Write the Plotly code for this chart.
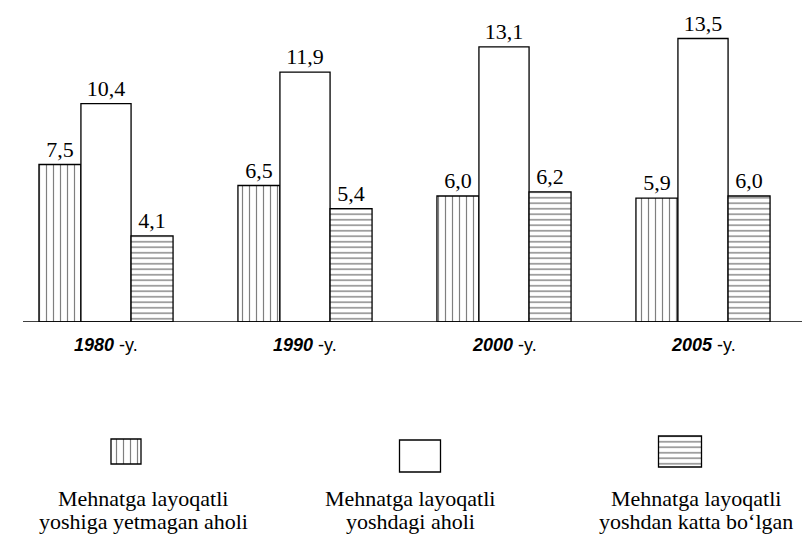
import plotly.graph_objects as go

# ---- data ----
years = ["1980", "1990", "2000", "2005"]
year_labels = ["1980", "1990", "2000", "2005"]
under_age = [7.5, 6.5, 6.0, 5.9]       # Mehnatga layoqatli yoshiga yetmagan aholi
working_age = [10.4, 11.9, 13.1, 13.5]  # Mehnatga layoqatli yoshdagi aholi
over_age = [4.1, 5.4, 6.2, 6.0]        # Mehnatga layoqatli yoshdan katta bo'lgan
series_names = [
    ["Mehnatga layoqatli", "yoshiga yetmagan aholi"],
    ["Mehnatga layoqatli", "yoshdagi aholi"],
    ["Mehnatga layoqatli", "yoshdan katta bo\u2018lgan"],
]

W, H = 810, 534
SERIF = "Liberation Serif, Times New Roman, serif"
SANS = "Liberation Sans, Arial, sans-serif"

def fmt(v):
    return f"{v:.1f}".replace(".", ",")

vert = dict(shape="|", size=7, solidity=0.17, fgcolor="black", bgcolor="white", fillmode="overlay")
horiz = dict(shape="-", size=5.5, solidity=0.25, fgcolor="black", bgcolor="white", fillmode="overlay")
plain = dict(shape="")

styles = [
    (under_age, vert, -0.337, 0.211),
    (working_age, plain, -0.126, 0.252),
    (over_age, horiz, 0.126, 0.211),
]

fig = go.Figure()
for vals, pat, off, wd in styles:
    fig.add_trace(go.Bar(
        x=years, y=vals, offset=off, width=wd,
        marker=dict(color="white", pattern=pat, line=dict(color="black", width=1.3)),
        text=[fmt(v) for v in vals], textposition="outside",
        textfont=dict(family=SERIF, size=22, color="black"),
        cliponaxis=False, showlegend=False, hoverinfo="skip",
    ))

# legend swatches drawn as bars on a pixel-like secondary axis
leg_x = [118, 412, 672]
leg_w = [30, 41, 43]
leg_top = [431, 432, 428]
leg_h = [25, 32, 31]
pats = [vert, plain, horiz]
for i in range(3):
    fig.add_trace(go.Bar(
        x=[leg_x[i]], y=[leg_h[i]], base=[leg_top[i]], width=[leg_w[i]],
        xaxis="x2", yaxis="y2",
        marker=dict(color="white", pattern=pats[i], line=dict(color="black", width=1.3)),
        showlegend=False, hoverinfo="skip",
    ))

px_per_cat = 199.0
c0 = 98.0
x_range = [-c0 / px_per_cat, (W - c0) / px_per_cat]
baseline_px = 314
px_per_unit = 21.0

fig.update_layout(
    width=W, height=H,
    margin=dict(l=0, r=0, t=0, b=0),
    paper_bgcolor="white", plot_bgcolor="white",
    barmode="overlay",
    xaxis=dict(type="category", range=x_range, domain=[0, 1], showticklabels=False,
               showgrid=False, zeroline=False, showline=False, ticks=""),
    yaxis=dict(range=[0, baseline_px / px_per_unit], domain=[(H - baseline_px) / H, 1],
               showticklabels=False, showgrid=False, zeroline=False, showline=False),
    xaxis2=dict(range=[0, W], domain=[0, 1], anchor="y2", visible=False),
    yaxis2=dict(range=[470, 420], domain=[(H - 470) / H, (H - 420) / H], anchor="x2", visible=False),
)

# baseline
fig.add_shape(type="line", xref="x", yref="y",
              x0=(15 - c0) / px_per_cat, x1=(800 - c0) / px_per_cat,
              y0=0, y1=0, line=dict(color="black", width=1.5))

# year labels
for i, lab in enumerate(year_labels):
    fig.add_annotation(x=i, y=(H - 337) / H, xref="x", yref="paper",
                       text=f"<b><i>{lab}</i></b> -y.", showarrow=False,
                       font=dict(family=SANS, size=18, color="black"),
                       xanchor="center", yanchor="middle")

# legend texts
leg_cx = [135, 402, 688]
for i in range(3):
    for j, line in enumerate(series_names[i]):
        fig.add_annotation(x=leg_cx[i] / W, y=(H - (490 + 23 * j)) / H, xref="paper", yref="paper",
                           text=line, showarrow=False, xanchor="center", yanchor="middle",
                           font=dict(family=SERIF, size=22, color="black"))

fig.write_html("out.html")
